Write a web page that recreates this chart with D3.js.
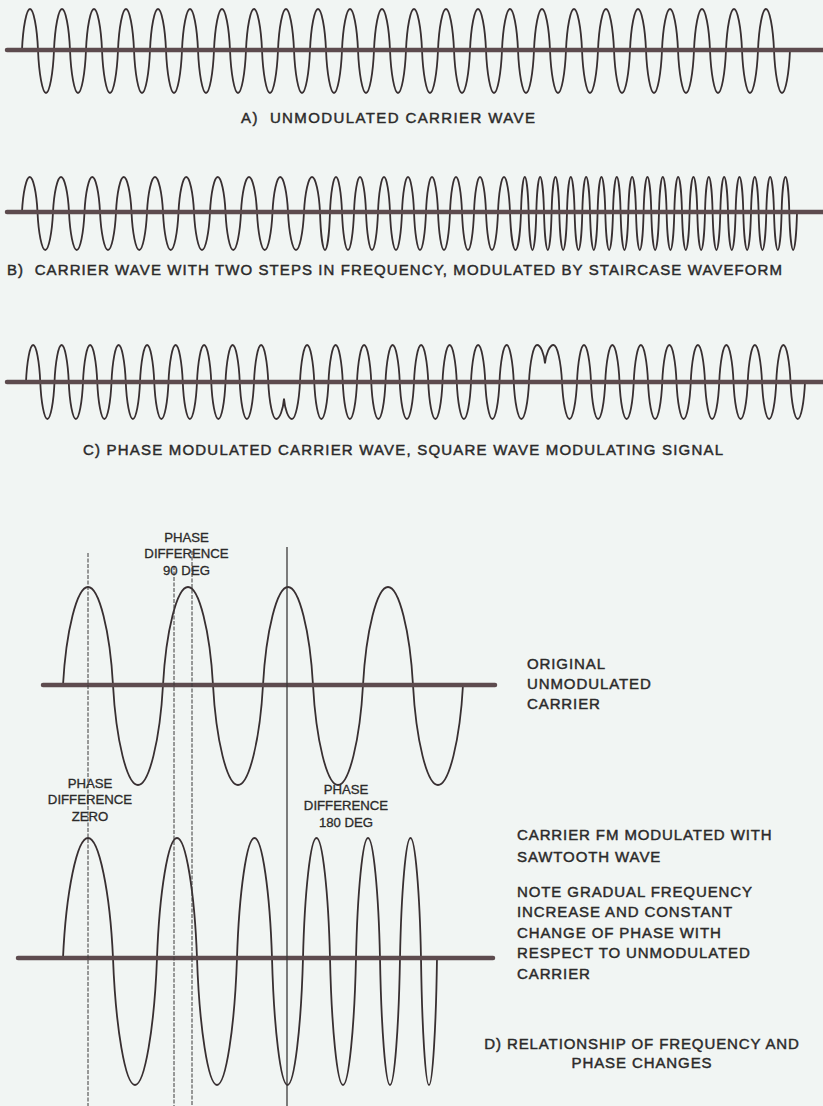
<!DOCTYPE html>
<html>
<head>
<meta charset="utf-8">
<script src="https://cdn.jsdelivr.net/npm/d3@7"></script>
<style>
  body { margin: 0; background: #f1f5f3; }
  svg { display: block; }
  text { font-family: "Liberation Sans", Arial, sans-serif; fill: #2b2a2a; stroke: #2b2a2a; stroke-width: 0.45; }
</style>
</head>
<body>
<svg id="svg-1" width="823" height="1106"></svg>
<script>
const AXIS = "#5d4b4e";
const WAVE = "#382f31";

// zero crossings of each trace (time axis in plate pixels)
const carrierA = [22, 38, 54, 70, 86, 102, 118, 134, 150, 166, 182, 198, 214, 230,
  246, 262, 278, 294, 310, 326, 342, 358, 374, 390, 406, 422, 438, 454, 470, 486,
  502, 518, 534, 550, 566, 582, 598, 614, 630, 646, 662, 678, 694, 710, 726, 742,
  758, 774, 790];

const staircaseB = [22, 37.5, 53, 69, 84.5, 100, 116, 131.5, 147, 163, 178.5, 194,
  210, 225.5, 241, 257, 272.5, 288, 304, 320,
  330, 342, 354, 366, 378, 390, 402, 414, 426, 438, 450, 462, 474, 486, 498, 510,
  521, 528.6, 536.3, 544, 551.6, 559.3, 567, 574.6, 582.3, 590, 597.6, 605.3, 613,
  620.6, 628.3, 636, 643.6, 651.3, 659, 666.6, 674.3, 682, 689.6, 697.3, 705,
  712.6, 720.3, 728, 735.6, 743.3, 751, 758.6, 766.3, 774, 781.6, 789.3, 797];

const phaseC = [26, 40.25, 54.5, 68.75, 83, 97.25, 111.5, 125.75, 140, 154.25,
  168.5, 182.75, 197, 211.25, 225.5, 239.75, 254, 268.25, 284,
  300, 314.25, 328.5, 342.75, 357, 371.25, 385.5, 399.75, 414, 428.25, 442.5,
  456.75, 471, 485.25, 499.5, 513.75, 529, 545,
  562, 577, 591, 605.25, 619.5, 633.75, 648, 662.25, 676.5, 690.75, 705, 719.25,
  733.5, 747.75, 762, 776.25, 790.5, 805];

// the two phase jumps: the trace turns back before reaching the axis
const phaseCusps = [[284, -0.45], [545, 0.5]];

const originalD = [63, 113, 163, 213, 263, 313, 363, 413, 463];
const sawtoothD = [63, 113, 157, 197, 237, 272, 303, 330, 356, 380, 400, 421, 437];

// reference instants in panel D
const dMarkers = [88, 174, 192, 287];

var svg = d3.select("#svg-1"),
  width = +svg.attr("width"),
  height = +svg.attr("height");

var x = d3.scaleLinear().domain([0, 823]).range([0, width]);

var panels = [
  { knots: carrierA, cusps: [], axis: [7, 823], top: 9, mid: 50, bottom: 93 },
  { knots: staircaseB, cusps: [], axis: [7, 823], top: 177, mid: 212, bottom: 250 },
  { knots: phaseC, cusps: phaseCusps, axis: [7, 823], top: 345, mid: 382, bottom: 419 },
  { knots: originalD, cusps: [], axis: [43, 495], top: 587, mid: 685, bottom: 785 },
  { knots: sawtoothD, cusps: [], axis: [18, 493], top: 838, mid: 958, bottom: 1085 }
];

// each half cycle drawn as a slightly pinched half ellipse
const KX = 0.12, KY = 0.55, KT = 0.56;

function wavePath(knots, cusps, y) {
  var level = new Map(cusps);
  var p = d3.path();
  var sign = 1;
  var lv = function(k) { return level.has(k) ? level.get(k) : 0; };
  p.moveTo(x(knots[0]), y(0));
  for (var i = 0; i < knots.length - 1; i++) {
    var a = knots[i], b = knots[i + 1];
    var la = lv(a), lb = lv(b);
    var x0 = x(a), x1 = x(b), xm = (x0 + x1) / 2;
    p.bezierCurveTo(
      x0 + KX * (xm - x0), y(la + KY * (sign - la)),
      x0 + KT * (xm - x0), y(sign),
      xm, y(sign));
    p.bezierCurveTo(
      xm + (1 - KT) * (x1 - xm), y(sign),
      xm + (1 - KX) * (x1 - xm), y(lb + KY * (sign - lb)),
      x1, y(lb));
    if (!level.has(b)) sign = -sign;
  }
  return p.toString();
}

panels.forEach(function(d) {
  var y = d3.scaleLinear().domain([-1, 0, 1]).range([d.bottom, d.mid, d.top]);
  var g = svg.append("g");
  g.append("path")
    .attr("d", wavePath(d.knots, d.cusps, y))
    .attr("fill", "none")
    .attr("stroke", WAVE)
    .attr("stroke-width", 1.8);
  g.append("line")
    .attr("x1", x(d.axis[0]))
    .attr("x2", x(d.axis[1]))
    .attr("y1", y(0))
    .attr("y2", y(0))
    .attr("stroke", AXIS)
    .attr("stroke-width", 4.5)
    .attr("stroke-linecap", "round");
});

// marker lines in panel D
var markerTop = [553, 566, 551, 547];
svg.append("g")
  .selectAll("line")
  .data(dMarkers)
  .enter()
  .append("line")
  .attr("x1", function(d) { return x(d); })
  .attr("x2", function(d) { return x(d); })
  .attr("y1", function(d, i) { return markerTop[i]; })
  .attr("y2", height)
  .attr("stroke", "#3d3a3a")
  .attr("stroke-width", function(d, i) { return i < 3 ? 1 : 1.3; })
  .style("stroke-dasharray", function(d, i) { return i < 3 ? "4, 1.5" : null; });

// captions: [text, x, baseline, textLength]
var captions = [
  ["A)  UNMODULATED CARRIER WAVE", 241, 122.5, 294],
  ["B)  CARRIER WAVE WITH TWO STEPS IN FREQUENCY, MODULATED BY STAIRCASE WAVEFORM", 7, 275, 775],
  ["C) PHASE MODULATED CARRIER WAVE, SQUARE WAVE MODULATING SIGNAL", 83, 455, 640]
];
svg.append("g")
  .selectAll("text")
  .data(captions)
  .enter()
  .append("text")
  .attr("x", function(d) { return d[1]; })
  .attr("y", function(d) { return d[2]; })
  .attr("textLength", function(d) { return d[3]; })
  .attr("lengthAdjust", "spacing")
  .attr("font-size", 15)
  .style("white-space", "pre")
  .text(function(d) { return d[0]; });

// small centred notes on the marker lines
var notes = [
  [186.5, 542, ["PHASE", "DIFFERENCE", "90 DEG"]],
  [90, 788, ["PHASE", "DIFFERENCE", "ZERO"]],
  [346, 794, ["PHASE", "DIFFERENCE", "180 DEG"]]
];
notes.forEach(function(n) {
  svg.append("g")
    .selectAll("text")
    .data(n[2])
    .enter()
    .append("text")
    .attr("x", n[0])
    .attr("y", function(d, i) { return n[1] + i * 16.3; })
    .attr("text-anchor", "middle")
    .attr("font-size", 13.2)
    .style("stroke-width", 0.3)
    .text(function(d) { return d; });
});

// side blocks
var blocks = [
  [527, 668.5, 20.3, ["ORIGINAL", "UNMODULATED", "CARRIER"]],
  [517, 840, 22, ["CARRIER FM MODULATED WITH", "SAWTOOTH WAVE"]],
  [517, 896.5, 20.6, ["NOTE GRADUAL FREQUENCY", "INCREASE AND CONSTANT",
    "CHANGE OF PHASE WITH", "RESPECT TO UNMODULATED", "CARRIER"]]
];
blocks.forEach(function(b) {
  svg.append("g")
    .selectAll("text")
    .data(b[3])
    .enter()
    .append("text")
    .attr("x", b[0])
    .attr("y", function(d, i) { return b[1] + i * b[2]; })
    .attr("font-size", 15)
    .attr("letter-spacing", 0.9)
    .text(function(d) { return d; });
});

svg.append("g")
  .selectAll("text")
  .data(["D) RELATIONSHIP OF FREQUENCY AND", "PHASE CHANGES"])
  .enter()
  .append("text")
  .attr("x", 642)
  .attr("y", function(d, i) { return 1049 + i * 18.5; })
  .attr("text-anchor", "middle")
  .attr("font-size", 15)
  .attr("letter-spacing", 0.9)
  .text(function(d) { return d; });
</script>
</body>
</html>
